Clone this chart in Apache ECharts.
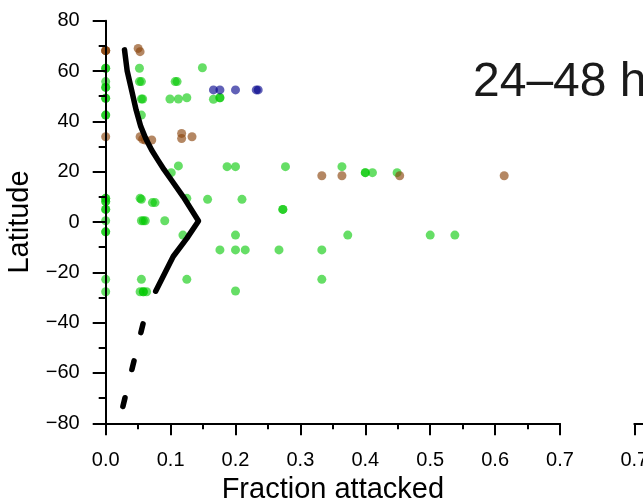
<!DOCTYPE html>
<html><head><meta charset="utf-8">
<script src="https://cdn.jsdelivr.net/npm/echarts@6/dist/echarts.min.js"></script>
<style>html,body{margin:0;padding:0;background:#fff}#c{width:643px;height:499px}</style>
</head><body><div id="c"></div>
<script>
const xTickLabels = ['0.0','0.1','0.2','0.3','0.4','0.5','0.6','0.7'];
const yTickLabels = ['\u221280','\u221260','\u221240','\u221220','0','20','40','60','80'];

const greenFrac = [0,0,0,0,0,0,0,0,0,0,0,0,0,0,0,0,0,0,0,0,
  0.052,0.149,0.052,0.055,0.107,0.110,0.055,0.057,0.099,0.112,0.125,0.055,0.166,0.176,0.176,
  0.112,0.101,0.053,0.055,0.072,0.076,0.125,0.157,0.210,0.055,0.058,0.061,0.091,0.119,
  0.055,0.125,0.053,0.058,0.058,0.063,0.187,0.200,0.277,0.364,0.273,0.273,0.200,0.373,
  0.176,0.200,0.215,0.267,0.333,0.333,0.200,0.400,0.400,0.411,0.449,0.500,0.538];
const greenLat = [61.1,61.1,55.8,53.5,53.5,49.2,49.2,42.5,42.5,9.4,9.4,8.1,8.1,5.0,5.0,0.5,-3.9,-3.9,-22.8,-27.7,
  61.1,61.3,55.8,55.8,55.8,55.8,48.9,48.9,48.9,48.9,49.4,42.5,48.8,49.4,49.4,
  22.3,19.6,9.4,9.0,7.7,7.7,9.4,9.0,9.0,0.5,0.5,0.5,0.5,-5.2,
  -22.8,-22.8,-27.7,-27.7,-27.7,-27.7,22.0,22.0,22.0,22.0,5.0,5.0,-5.2,-5.2,
  -11.1,-11.1,-11.1,-11.1,-11.1,-22.8,-27.4,19.6,19.6,19.6,19.6,-5.2,-5.2];

const brownFrac = [0,0,0,0.050,0.053,0,0.053,0.057,0.061,0.071,0.117,0.117,0.133,0.333,0.364,0.453,0.614];
const brownLat  = [68.1,68.1,68.1,69.0,67.7,33.9,33.9,32.9,32.6,32.6,35.2,33.2,33.9,18.4,18.4,18.4,18.4];

const blueFrac = [0.166,0.176,0.200,0.232,0.235];
const blueLat  = [52.5,52.5,52.5,52.5,52.5];

const fitFrac = [0.029,0.033,0.040,0.047,0.054,0.062,0.071,0.080,0.090,0.1015,0.1195,0.143,0.125,0.104,0.077];
const fitLat  = [68.4,60.2,52.3,44.4,38.0,33.0,28.5,24.8,20.8,16.6,10.0,0.4,-6.5,-13.7,-27.5];

const extFrac = [0.0575,0.0263];
const extLat  = [-40.5,-73.5];

const FONT = "'Liberation Sans', Arial, Helvetica, sans-serif";
const zip = (a,b) => a.map((v,i)=>[v,b[i]]);

const chart = echarts.init(document.getElementById('c'), null, {renderer:'canvas'});
const axisLineStyle = {color:'#000', width:2};
chart.setOption({
  animation:false,
  backgroundColor:'#fff',
  title:{text:'24\u201348 h', left:473, top:59, padding:0,
    textStyle:{fontSize:48, fontWeight:'normal', color:'#1a1a1a', fontFamily:FONT, lineHeight:48}},
  grid:[
    {left:105.7, top:20.7, width:454.3, height:402.6, containLabel:false, outerBoundsMode:'none'},
    {left:634.3, top:20.7, width:454.3, height:402.6, containLabel:false, outerBoundsMode:'none'}
  ],
  xAxis:[
    {type:'value', gridIndex:0, min:0, max:0.7, interval:0.1, z:5,
     axisLine:{show:true, onZero:false, lineStyle:axisLineStyle},
     axisTick:{show:true, length:12, lineStyle:axisLineStyle},
     minorTick:{show:true, splitNumber:2, length:6, lineStyle:axisLineStyle},
     splitLine:{show:false}, minorSplitLine:{show:false},
     axisLabel:{show:true, margin:27, fontSize:20, color:'#000', fontFamily:FONT,
       showMinLabel:true, showMaxLabel:true,
       formatter:(v)=>xTickLabels[Math.round(v*10)]},
     name:'Fraction attacked', nameLocation:'middle', nameGap:49,
     nameTextStyle:{fontSize:29, color:'#000', fontFamily:FONT}},
    {type:'value', gridIndex:1, min:0, max:0.7, interval:0.1, inverse:true, z:5,
     axisLine:{show:true, onZero:false, lineStyle:axisLineStyle},
     axisTick:{show:true, length:12, lineStyle:axisLineStyle},
     minorTick:{show:true, splitNumber:2, length:6, lineStyle:axisLineStyle},
     splitLine:{show:false},
     axisLabel:{show:true, margin:27, fontSize:20, color:'#000', fontFamily:FONT,
       showMinLabel:true, showMaxLabel:true,
       formatter:(v)=>xTickLabels[Math.round(v*10)]}}
  ],
  yAxis:[
    {type:'value', gridIndex:0, min:-80, max:80, interval:20, z:5,
     axisLine:{show:true, onZero:false, lineStyle:axisLineStyle},
     axisTick:{show:true, length:13, lineStyle:axisLineStyle},
     minorTick:{show:true, splitNumber:2, length:7, lineStyle:axisLineStyle},
     splitLine:{show:false},
     axisLabel:{show:true, margin:26, fontSize:20, color:'#000', fontFamily:FONT,
       showMinLabel:true, showMaxLabel:true,
       formatter:(v)=>yTickLabels[Math.round((v+80)/20)]},
     name:'Latitude', nameLocation:'middle', nameGap:60,
     nameTextStyle:{fontSize:29, color:'#000', fontFamily:FONT}},
    {type:'value', gridIndex:1, min:-80, max:80, show:false}
  ],
  series:[
    {type:'scatter', xAxisIndex:0, yAxisIndex:0, data:zip(greenFrac,greenLat), symbolSize:9, z:2,
     itemStyle:{color:'rgb(0,200,0)', opacity:0.6}, emphasis:{disabled:true}},
    {type:'scatter', xAxisIndex:0, yAxisIndex:0, data:zip(brownFrac,brownLat), symbolSize:9, z:2,
     itemStyle:{color:'rgb(140,70,15)', opacity:0.65}, emphasis:{disabled:true}},
    {type:'scatter', xAxisIndex:0, yAxisIndex:0, data:zip(blueFrac,blueLat), symbolSize:9, z:2,
     itemStyle:{color:'rgb(0,0,139)', opacity:0.62}, emphasis:{disabled:true}},
    {type:'line', xAxisIndex:0, yAxisIndex:0, data:zip(fitFrac,fitLat), symbol:'none', z:4, clip:false,
     lineStyle:{color:'#000', width:5.5, cap:'round', join:'round'}, emphasis:{disabled:true}},
    {type:'line', xAxisIndex:0, yAxisIndex:0, data:zip(extFrac,extLat), symbol:'none', z:4, clip:false,
     lineStyle:{color:'#000', width:5.5, type:[9,29], cap:'round'}, emphasis:{disabled:true}}
  ]
});
</script>
</body></html>
